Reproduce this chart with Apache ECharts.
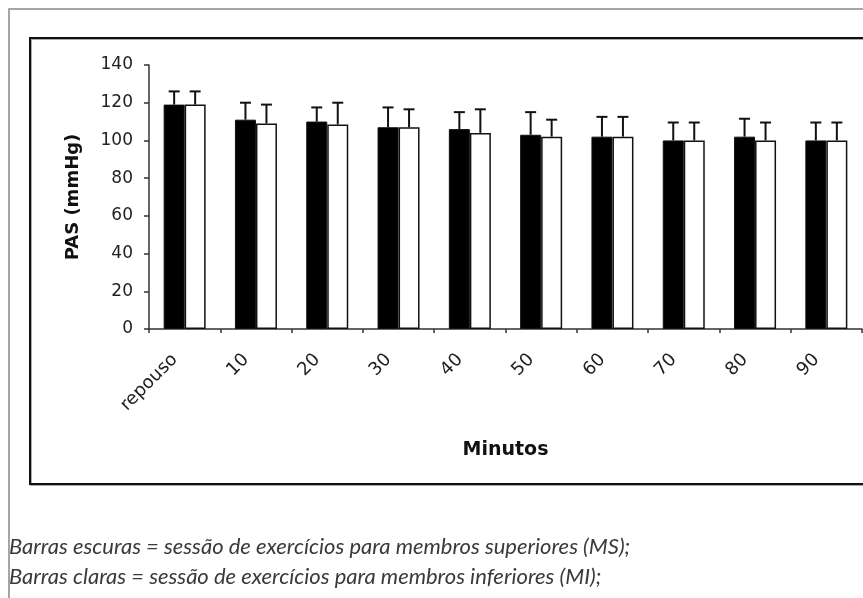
<!DOCTYPE html>
<html><head><meta charset="utf-8">
<script src="https://cdn.jsdelivr.net/npm/echarts@6/dist/echarts.min.js"></script>
<style>html,body{margin:0;padding:0;background:#fff}#c{width:863px;height:598px}</style>
</head><body><div id="c"></div>
<script>
const categories = ['repouso','10','20','30','40','50','60','70','80','90'];
const msMean = [119, 111, 110, 107, 106, 103, 102, 100, 102, 100];
const msSD   = [7, 9, 7.5, 10.5, 9, 12, 10.5, 9.5, 9.5, 9.5];
const miMean = [119, 109, 108.5, 107, 104, 102, 102, 100, 100, 100];
const miSD   = [7, 10, 11.5, 9.5, 12.5, 9, 10.5, 9.5, 9.5, 9.5];
const yTicks = [0, 20, 40, 60, 80, 100, 120, 140];
const caption1 = 'Barras escuras = sessão de exercícios para membros superiores (MS);';
const caption2 = 'Barras claras = sessão de exercícios para membros inferiores (MI);';

const chart = echarts.init(document.getElementById('c'));
const BW = 21;
function errSeries(means, sds, side) {
  return {
    type: 'custom', z: 5,
    data: means.map((m, i) => [i, m, m + sds[i]]),
    renderItem: function (params, api) {
      const i = api.value(0);
      const p0 = api.coord([i, api.value(1)]);
      const p1 = api.coord([i, api.value(2)]);
      const x = p0[0] + side * BW / 2;
      const style = { stroke: '#111', lineWidth: 2 };
      return { type: 'group', children: [
        { type: 'line', shape: { x1: x, y1: p0[1], x2: x, y2: p1[1] }, style },
        { type: 'line', shape: { x1: x - 5.5, y1: p1[1], x2: x + 5.5, y2: p1[1] }, style }
      ]};
    }
  };
}
const F = "'DejaVu Sans', 'Liberation Sans', sans-serif";
chart.setOption({
  animation: false,
  backgroundColor: '#fff',
  grid: { left: 149, right: 1, top: 65, bottom: 269 },
  xAxis: {
    type: 'category', data: categories,
    name: 'Minutos', nameLocation: 'middle', nameGap: 112,
    nameTextStyle: { fontFamily: F, fontWeight: 'bold', fontSize: 19, color: '#111' },
    axisLine: { lineStyle: { color: '#333', width: 1.5 } },
    axisTick: { show: true, length: 4, lineStyle: { color: '#333', width: 1.5 } },
    axisLabel: { rotate: 45, fontFamily: F, fontSize: 18, color: '#222', margin: 18, padding: [0, 14, 0, 0] }
  },
  yAxis: {
    type: 'value', min: 0, max: 140, interval: 20,
    name: 'PAS (mmHg)', nameLocation: 'middle', nameGap: 67, nameRotate: 90,
    nameTextStyle: { fontFamily: F, fontWeight: 'bold', fontSize: 18, color: '#111' },
    axisLine: { show: true, lineStyle: { color: '#333', width: 1.5 } },
    axisTick: { show: true, length: 5, lineStyle: { color: '#333', width: 1.5 } },
    splitLine: { show: false },
    axisLabel: { fontFamily: F, fontSize: 17, color: '#222', margin: 16,
      formatter: v => yTicks.includes(v) ? String(v) : '' }
  },
  series: [
    { type: 'bar', data: msMean, barWidth: BW, barGap: '0%',
      itemStyle: { color: '#000', borderColor: '#111', borderWidth: 1 } },
    { type: 'bar', data: miMean, barWidth: BW,
      itemStyle: { color: '#fff', borderColor: '#111', borderWidth: 1.5 } },
    errSeries(msMean, msSD, -1),
    errSeries(miMean, miSD, 1)
  ],
  graphic: [
    { type: 'polyline', shape: { points: [[9, 598], [9, 9], [863, 9]] },
      style: { stroke: '#888', lineWidth: 1.5, fill: null } },
    { type: 'rect', shape: { x: 31, y: 39, width: 900, height: 446 },
      style: { stroke: '#aaa', lineWidth: 2, fill: null } },
    { type: 'rect', shape: { x: 30, y: 38, width: 900, height: 446 },
      style: { stroke: '#111', lineWidth: 2, fill: null } },
    { type: 'text', left: 9, top: 536,
      style: { text: caption1, fontFamily: 'Lato, sans-serif', fontStyle: 'italic', fontSize: 22, fill: '#3a3a3a' } },
    { type: 'text', left: 9, top: 566,
      style: { text: caption2, fontFamily: 'Lato, sans-serif', fontStyle: 'italic', fontSize: 22, fill: '#3a3a3a' } }
  ]
});
</script></body></html>
